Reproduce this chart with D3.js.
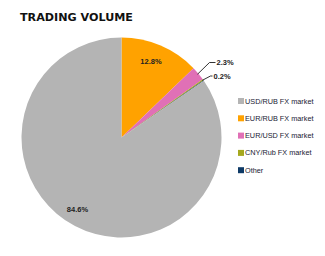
<!DOCTYPE html>
<html><head><meta charset="utf-8">
<script src="https://cdn.jsdelivr.net/npm/d3@7"></script>
<style>body{margin:0;background:#fff}svg{display:block}</style>
</head><body>
<script>
const categories = ["USD/RUB FX market","EUR/RUB FX market","EUR/USD FX market","CNY/Rub FX market","Other"];
const values = [84.6, 12.8, 2.3, 0.2, 0.1];
const labels = ["84.6%","12.8%","2.3%","0.2%",""];
const colors = ["#B4B4B4","#FFA200","#E070B6","#A5A81E","#0E3A66"];
const pieOrder = [1,2,3,4,0];

const W=325,H=256;
const svg=d3.select("body").append("svg").attr("width",W).attr("height",H);
svg.append("text").attr("x",20).attr("y",21).text("TRADING VOLUME")
  .attr("font-family","DejaVu Sans").attr("font-weight","bold").attr("font-size",11)
  .attr("textLength",113).attr("lengthAdjust","spacingAndGlyphs").attr("fill","#111");

const cx=121.5, cy=137.5, r=100;
const data = pieOrder.map(i=>({i, v:values[i]}));
const pie=d3.pie().value(d=>d.v).sort(null);
const arcs=pie(data);
const arc=d3.arc().innerRadius(0).outerRadius(r);
const g=svg.append("g").attr("transform",`translate(${cx},${cy})`);
g.selectAll("path").data(arcs).join("path").attr("d",arc).attr("fill",d=>colors[d.data.i]);

const lblFont={family:"Liberation Sans",size:7.5};
const inner=d3.arc().innerRadius(r*0.7).outerRadius(r*0.7);
arcs.forEach(a=>{
  const i=a.data.i;
  if(i===1||i===0){
    let [x,y]=inner.centroid(a);
    if(i===1){x=29.5;y=-76;}
    if(i===0){x=-44;y=72;}
    g.append("text").attr("x",x).attr("y",y).attr("text-anchor","middle").attr("dy","0.35em")
      .attr("font-family",lblFont.family).attr("font-weight","bold").attr("font-size",lblFont.size)
      .attr("fill","#222").text(labels[i]);
  }
});
// leader labels for small slices
const callouts={2:{lx:88,ly:-75,tx:95},3:{lx:89,ly:-61.5,tx:92}};
arcs.forEach(a=>{
  const i=a.data.i;
  if(!callouts[i])return;
  const m=(a.startAngle+a.endAngle)/2;
  const px=Math.sin(m)*r*0.99, py=-Math.cos(m)*r*0.99;
  const c=callouts[i];
  g.append("path").attr("d",`M${px},${py}L${c.lx},${c.ly}L${c.tx-1},${c.ly}`)
    .attr("fill","none").attr("stroke","#000").attr("stroke-width",0.8);
  g.append("text").attr("x",c.tx).attr("y",c.ly).attr("dy","0.35em")
    .attr("font-family",lblFont.family).attr("font-weight","bold").attr("font-size",lblFont.size)
    .attr("fill","#222").text(labels[i]);
});

const lg=svg.append("g");
categories.forEach((c,k)=>{
  const y=101+k*17.3;
  lg.append("rect").attr("x",238).attr("y",y-3).attr("width",6).attr("height",6).attr("fill",colors[k]);
  lg.append("text").attr("x",245).attr("y",y).attr("dy","0.35em")
    .attr("font-family","Liberation Sans").attr("font-size",7.3).attr("fill","#1a1a33").text(c);
});
</script>
</body></html>
